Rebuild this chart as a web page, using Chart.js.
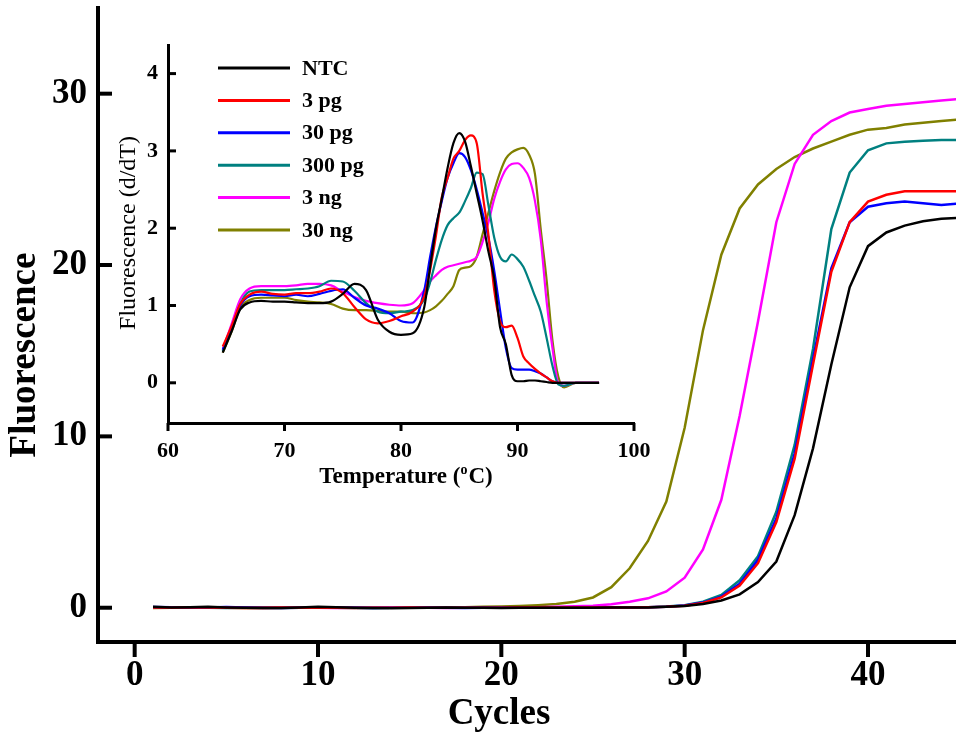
<!DOCTYPE html>
<html><head><meta charset="utf-8">
<script src="https://cdn.jsdelivr.net/npm/chart.js@4.4.0/dist/chart.umd.min.js"></script>
<style>
html,body{margin:0;padding:0;background:#fff;overflow:hidden;}
#wrap{position:relative;width:956px;height:735px;}
#main{position:absolute;left:0;top:0;width:956px;height:735px;}
#inset{position:absolute;left:100px;top:20px;width:560px;height:480px;}
</style></head><body>
<div id="wrap"><canvas id="main" width="956" height="735"></canvas><canvas id="inset" width="560" height="480"></canvas></div>
<script>
// ---------- Main amplification plot ----------
const cycles = [1,2,3,4,5,6,7,8,9,10,11,12,13,14,15,16,17,18,19,20,21,22,23,24,25,26,27,28,29,30,31,32,33,34,35,36,37,38,39,40,41,42,43,44,45];
const seriesLabels = ['NTC','3 pg','30 pg','300 pg','3 ng','30 ng'];
const seriesColors = ['#000000','#ff0000','#0000ff','#008080','#ff00ff','#808000'];
const ampNTC   = [0.05,0.02,0.03,0.05,0.02,0,-0.02,-0.02,0.02,0.05,0.03,0,-0.02,-0.03,-0.02,0,0.02,0,0,-0.02,0,0,0,0,0,0.01,0.01,0.02,0.05,0.1,0.22,0.42,0.78,1.5,2.7,5.4,9.3,14.2,18.7,21.1,21.9,22.3,22.55,22.7,22.75];
const amp3pg   = [0.02,0,0.03,0.02,0,-0.02,0,0.02,0,0.02,0,-0.02,0,0,0.02,0,0,0,0,0,0.01,0.01,0.01,0.02,0.02,0.02,0.02,0.03,0.06,0.12,0.28,0.6,1.3,2.6,5.0,8.7,14.2,19.6,22.5,23.7,24.1,24.3,24.3,24.3,24.3];
const amp30pg  = [0.04,0.03,0,0.02,0.04,0.02,0,-0.02,0,0.02,0.02,0,-0.02,0,0,0.02,0,-0.02,0,0,0,0,0.01,0.01,0.02,0.02,0.02,0.03,0.06,0.13,0.3,0.65,1.4,2.8,5.2,9.0,14.5,19.8,22.5,23.4,23.6,23.7,23.6,23.5,23.6];
const amp300pg = [0,0.02,0.02,0,-0.02,0,0.02,0,0,0.02,0,-0.02,-0.02,0,0,0,0.02,0,0,0,0,0.01,0.01,0.01,0.02,0.02,0.02,0.03,0.07,0.15,0.35,0.75,1.6,3.0,5.6,9.5,15.1,22.1,25.4,26.7,27.1,27.2,27.25,27.3,27.3];
const amp3ng   = [0.02,0,0,0.03,0.02,0,-0.02,0,0.02,0,-0.02,0,0,0.02,0,0,-0.02,0,0.01,0.02,0.02,0.03,0.05,0.08,0.12,0.2,0.35,0.55,0.95,1.75,3.4,6.3,11.2,16.7,22.5,25.9,27.6,28.4,28.9,29.1,29.3,29.4,29.5,29.6,29.7];
const amp30ng  = [-0.02,0,0,0.02,0,-0.02,-0.03,-0.02,0,0.02,0,0,-0.02,0,0.02,0.02,0.02,0.03,0.05,0.07,0.1,0.15,0.22,0.35,0.6,1.2,2.3,3.9,6.2,10.5,16.2,20.6,23.3,24.7,25.6,26.3,26.8,27.2,27.6,27.9,28.0,28.2,28.3,28.4,28.5];
const mainXTicks = [0,10,20,30,40];
const mainYTicks = [0,10,20,30];
const mainXTitle = 'Cycles';
const mainYTitle = 'Fluorescence';

// ---------- Inset melt curve ----------
const temps = [64.7,65.5,66.2,67,68,69,70,71,72,73,74,75,76,77,78,79,80,81,82,82.5,83,83.5,84,84.5,85,85.5,86,86.5,87,87.5,88,88.5,89,89.5,90,90.5,91,91.5,92,92.5,93,93.5,94,95,96,97];
const meltNTC   = [0.39,0.68,0.95,1.04,1.06,1.05,1.05,1.04,1.03,1.03,1.05,1.15,1.28,1.2,0.82,0.66,0.62,0.64,0.98,1.5,2.0,2.38,2.78,3.1,3.23,3.12,2.8,2.45,2.1,1.7,1.35,0.72,0.5,0.1,0.02,0.02,0.03,0.03,0.02,0.01,0,0,0,0,0,0];
const melt3pg   = [0.47,0.75,1.02,1.14,1.18,1.15,1.14,1.16,1.16,1.18,1.22,1.16,0.98,0.82,0.77,0.8,0.86,0.92,1.12,1.46,1.9,2.4,2.65,2.9,3.0,3.14,3.2,3.1,2.45,1.92,1.2,0.8,0.72,0.74,0.58,0.34,0.25,0.18,0.12,0.07,0.02,0,0,0,0,0];
const melt30pg  = [0.43,0.72,1.0,1.12,1.14,1.13,1.12,1.14,1.12,1.15,1.19,1.21,1.1,1.0,0.96,0.9,0.8,0.78,1.2,1.63,2.02,2.35,2.65,2.84,2.97,2.92,2.75,2.5,2.2,1.88,1.45,0.94,0.45,0.19,0.17,0.17,0.17,0.15,0.12,0.07,0.02,0,0,0,0,0];
const melt300pg = [0.41,0.72,1.02,1.18,1.2,1.2,1.2,1.21,1.22,1.25,1.32,1.31,1.19,1.03,0.92,0.9,0.92,0.94,1.08,1.3,1.59,1.85,2.04,2.13,2.2,2.35,2.52,2.72,2.7,2.3,1.88,1.63,1.57,1.66,1.6,1.5,1.32,1.12,0.92,0.58,0.22,-0.02,-0.04,0,0,0];
const melt3ng   = [0.43,0.78,1.08,1.22,1.25,1.25,1.25,1.26,1.28,1.28,1.26,1.18,1.11,1.06,1.03,1.01,1.0,1.03,1.2,1.31,1.39,1.46,1.5,1.52,1.54,1.56,1.58,1.63,1.82,2.07,2.38,2.6,2.76,2.83,2.84,2.78,2.65,2.35,1.85,1.05,0.45,0.0,-0.04,0,0,0];
const melt30ng  = [0.39,0.68,0.97,1.07,1.1,1.1,1.1,1.07,1.05,1.04,1.02,0.96,0.94,0.94,0.93,0.92,0.92,0.9,0.91,0.94,0.99,1.06,1.15,1.25,1.46,1.49,1.51,1.63,1.92,2.2,2.48,2.72,2.9,2.98,3.02,3.04,2.95,2.7,1.98,1.33,0.55,0.08,-0.06,0,0,0];
const insetXTicks = [60,70,80,90,100];
const insetYTicks = [0,1,2,3,4];
const insetYTitle = 'Fluorescence (d/dT)';
const insetXTitleMain = 'Temperature (';
const insetXTitleSup = 'o';
const insetXTitleEnd = 'C)';

const SERIF = '"Liberation Serif", "Times New Roman", serif';

const ampSeries = [ampNTC, amp3pg, amp30pg, amp300pg, amp3ng, amp30ng];
const meltSeries = [meltNTC, melt3pg, melt30pg, melt300pg, melt3ng, melt30ng];

const noPadX = h => s => { s.height = h; s.paddingLeft = 0; s.paddingRight = 0; s.paddingTop = 0; s.paddingBottom = 0; };
const noPadY = w => s => { s.width = w; s.paddingLeft = 0; s.paddingRight = 0; s.paddingTop = 0; s.paddingBottom = 0; };

const mainDeco = {
  id: 'mainDeco',
  afterDraw(chart) {
    const {ctx, chartArea: a, scales: {x, y}} = chart;
    ctx.save();
    ctx.strokeStyle = '#000'; ctx.lineWidth = 4; ctx.lineCap = 'butt';
    mainXTicks.forEach(v => { const px = x.getPixelForValue(v); ctx.beginPath(); ctx.moveTo(px, a.bottom); ctx.lineTo(px, a.bottom + 15); ctx.stroke(); });
    mainYTicks.forEach(v => { const py = y.getPixelForValue(v); ctx.beginPath(); ctx.moveTo(a.left, py); ctx.lineTo(a.left + 14, py); ctx.stroke(); });
    ctx.fillStyle = '#000';
    ctx.font = 'bold 37px ' + SERIF;
    ctx.textAlign = 'center'; ctx.textBaseline = 'middle';
    ctx.fillText(mainXTitle, 499, 714);
    ctx.translate(25, 355); ctx.rotate(-Math.PI / 2);
    ctx.fillText(mainYTitle, 0, 0);
    ctx.restore();
  }
};

new Chart(document.getElementById('main'), {
  type: 'line',
  data: {
    labels: cycles,
    datasets: ampSeries.map((s, i) => ({
      label: seriesLabels[i],
      data: cycles.map((c, j) => ({x: c, y: s[j]})),
      borderColor: seriesColors[i],
      borderWidth: 2.5,
      pointRadius: 0,
      tension: 0,
      fill: false
    }))
  },
  options: {
    responsive: false, animation: false, devicePixelRatio: 1,
    layout: {padding: {top: 8, right: 0, left: 0, bottom: 0}},
    plugins: {legend: {display: false}, tooltip: {enabled: false}, title: {display: false}},
    scales: {
      x: {
        type: 'linear', min: -2, max: 44.8,
        afterBuildTicks: s => { s.ticks = mainXTicks.map(v => ({value: v})); },
        afterFit: noPadX(93),
        grid: {display: true, drawOnChartArea: false, drawTicks: false},
        border: {display: true, color: '#000', width: 4},
        ticks: {color: '#000', padding: 13, maxRotation: 0, font: {family: SERIF, size: 35, weight: 'bold'}}
      },
      y: {
        type: 'linear', min: -2, max: 35,
        afterBuildTicks: s => { s.ticks = mainYTicks.map(v => ({value: v})); },
        afterFit: noPadY(98),
        grid: {display: true, drawOnChartArea: false, drawTicks: false},
        border: {display: true, color: '#000', width: 4},
        ticks: {color: '#000', padding: 11, font: {family: SERIF, size: 35, weight: 'bold'}}
      }
    }
  },
  plugins: [mainDeco]
});

const insetDeco = {
  id: 'insetDeco',
  afterDraw(chart) {
    const {ctx, chartArea: a, scales: {x, y}} = chart;
    ctx.save();
    ctx.strokeStyle = '#000'; ctx.lineWidth = 3; ctx.lineCap = 'butt';
    insetXTicks.forEach(v => { const px = x.getPixelForValue(v); ctx.beginPath(); ctx.moveTo(px, a.bottom); ctx.lineTo(px, a.bottom + 8); ctx.stroke(); });
    insetYTicks.forEach(v => { const py = y.getPixelForValue(v); ctx.beginPath(); ctx.moveTo(a.left, py); ctx.lineTo(a.left + 8, py); ctx.stroke(); });
    // legend
    chart.data.datasets.forEach((ds, i) => {
      const ry = 48 + i * 32.4;
      ctx.strokeStyle = ds.borderColor; ctx.lineWidth = 3;
      ctx.beginPath(); ctx.moveTo(118, ry); ctx.lineTo(190, ry); ctx.stroke();
      ctx.fillStyle = '#000';
      ctx.font = 'bold 22px ' + SERIF;
      ctx.textAlign = 'left'; ctx.textBaseline = 'middle';
      ctx.fillText(ds.label, 202, ry + 1);
    });
    // x title with superscript
    ctx.fillStyle = '#000';
    ctx.textBaseline = 'alphabetic'; ctx.textAlign = 'left';
    ctx.font = 'bold 23px ' + SERIF;
    const w1 = ctx.measureText(insetXTitleMain).width;
    const w3 = ctx.measureText(insetXTitleEnd).width;
    ctx.font = 'bold 14px ' + SERIF;
    const w2 = ctx.measureText(insetXTitleSup).width + 1;
    const total = w1 + w2 + w3;
    let sx = 306 - total / 2;
    const by = 463;
    ctx.font = 'bold 23px ' + SERIF;
    ctx.fillText(insetXTitleMain, sx, by);
    ctx.font = 'bold 14px ' + SERIF;
    ctx.fillText(insetXTitleSup, sx + w1, by - 9);
    ctx.font = 'bold 23px ' + SERIF;
    ctx.fillText(insetXTitleEnd, sx + w1 + w2, by);
    // y title
    ctx.font = '24px ' + SERIF;
    ctx.textAlign = 'center'; ctx.textBaseline = 'middle';
    ctx.translate(29, 213); ctx.rotate(-Math.PI / 2);
    ctx.fillText(insetYTitle, 0, 0);
    ctx.restore();
  }
};

new Chart(document.getElementById('inset'), {
  type: 'line',
  data: {
    datasets: meltSeries.map((s, i) => ({
      label: seriesLabels[i],
      data: temps.map((t, j) => ({x: t, y: s[j]})),
      borderColor: seriesColors[i],
      borderWidth: 2.2,
      pointRadius: 0,
      cubicInterpolationMode: 'monotone',
      fill: false
    }))
  },
  options: {
    responsive: false, animation: false, devicePixelRatio: 1,
    layout: {padding: {top: 25, right: 26, left: 0, bottom: 0}},
    plugins: {legend: {display: false}, tooltip: {enabled: false}, title: {display: false}},
    scales: {
      x: {
        type: 'linear', min: 60, max: 100,
        afterBuildTicks: s => { s.ticks = insetXTicks.map(v => ({value: v})); },
        afterFit: noPadX(77),
        grid: {display: true, drawOnChartArea: false, drawTicks: false},
        border: {display: true, color: '#000', width: 3},
        ticks: {color: '#000', padding: 15, maxRotation: 0, font: {family: SERIF, size: 22, weight: 'bold'}}
      },
      y: {
        type: 'linear', min: -0.52, max: 4.37,
        afterBuildTicks: s => { s.ticks = insetYTicks.map(v => ({value: v})); },
        afterFit: noPadY(68),
        grid: {display: true, drawOnChartArea: false, drawTicks: false},
        border: {display: true, color: '#000', width: 3},
        ticks: {color: '#000', padding: 10, font: {family: SERIF, size: 22, weight: 'bold'}}
      }
    }
  },
  plugins: [insetDeco]
});
</script>
</body></html>
